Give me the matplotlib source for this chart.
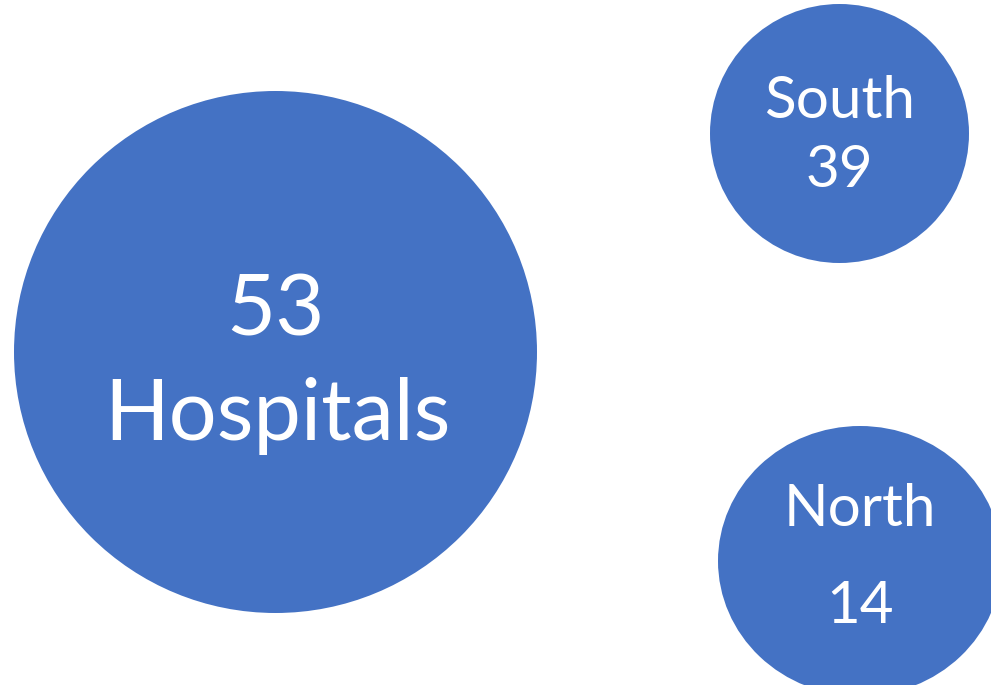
import matplotlib
matplotlib.use('Agg')
import matplotlib.pyplot as plt
from matplotlib.patches import Ellipse

# values shown in the bubbles
total_count = 53
total_label = 'Hospitals'
regions = ['South', 'North']
region_counts = [39, 14]

blue = '#4472C4'
font = 'Lato'

fig = plt.figure(figsize=(9.91, 6.85), dpi=100)
ax = fig.add_axes([0, 0, 1, 1])
ax.set_xlim(0, 991)
ax.set_ylim(685, 0)
ax.axis('off')

# big bubble
ax.add_patch(Ellipse((275.5, 352), 523, 522, color=blue, lw=0))
ax.text(275.5, 335, str(total_count), color='white', fontsize=61,
        family=font, ha='center', va='baseline')
ax.text(277, 440, total_label, color='white', fontsize=61,
        family=font, ha='center', va='baseline')

# region bubbles
centres = [(839.5, 133.5), (860, 561)]
sizes = [(259, 259), (284, 270)]
name_base = [118, 526]
count_base = [187, 623]
for name, n, c, s, yb1, yb2 in zip(regions, region_counts, centres, sizes,
                                    name_base, count_base):
    ax.add_patch(Ellipse(c, s[0], s[1], color=blue, lw=0))
    ax.text(c[0], yb1, name, color='white', fontsize=42, family=font,
            ha='center', va='baseline')
    ax.text(c[0], yb2, str(n), color='white', fontsize=42, family=font,
            ha='center', va='baseline')

fig.savefig('out.png', dpi=100)
